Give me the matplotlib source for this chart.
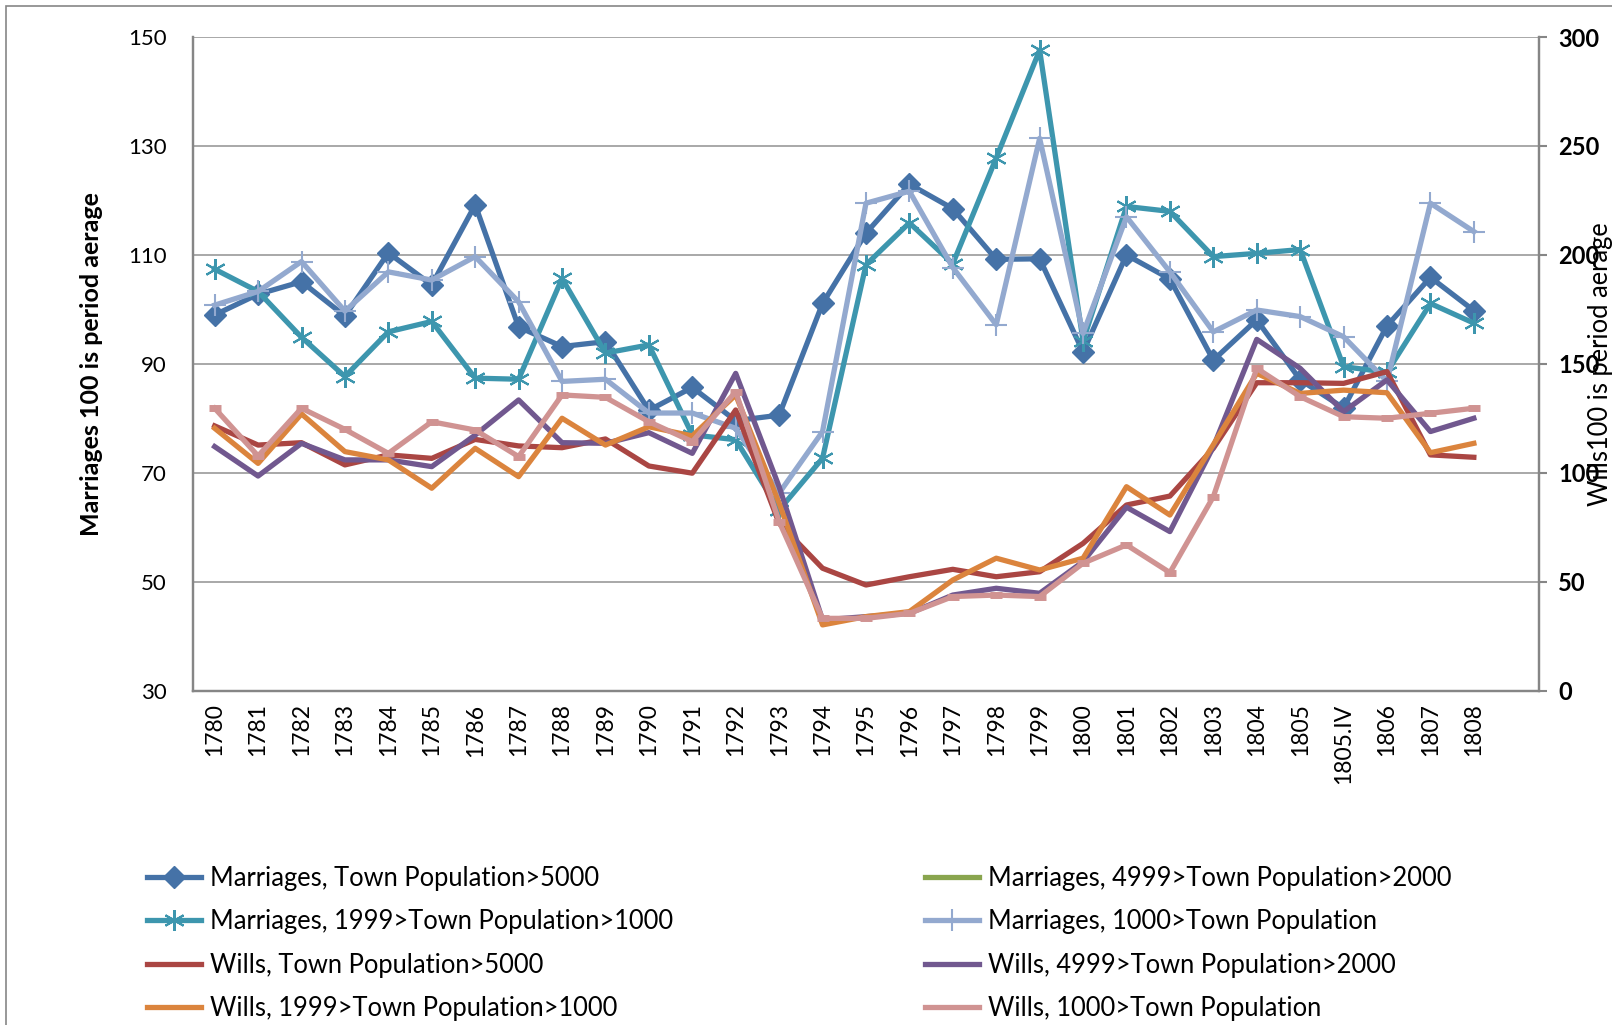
import matplotlib
matplotlib.use("Agg")
import matplotlib.pyplot as plt
from matplotlib.patches import Rectangle

plt.rcParams['font.family'] = ['Lato', 'DejaVu Sans']

# --- Data (index: 100 is period average) ---
years = ['1780', '1781', '1782', '1783', '1784', '1785', '1786', '1787', '1788', '1789',
         '1790', '1791', '1792', '1793', '1794', '1795', '1796', '1797', '1798', '1799',
         '1800', '1801', '1802', '1803', '1804', '1805', '1805.IV', '1806', '1807', '1808']

# marriages, left axis
marr_over_5000 = [99.0, 102.8, 105.1, 98.8, 110.4, 104.5, 119.2, 96.8, 93.2, 94.1,
                  81.5, 85.7, 79.6, 80.6, 101.1, 114.0, 123.0, 118.5, 109.2, 109.3,
                  92.2, 110.0, 105.6, 90.7, 98.1, 87.1, 81.9, 97.0, 105.9, 99.8]
marr_1000_1999 = [107.4, 103.3, 94.9, 87.7, 95.9, 97.8, 87.4, 87.2, 105.7, 92.0,
                  93.5, 77.0, 76.1, 63.2, 72.7, 108.2, 115.9, 108.4, 127.8, 147.6,
                  94.2, 118.9, 118.0, 109.7, 110.3, 111.0, 89.5, 88.5, 101.1, 97.5]
marr_under_1000 = [100.8, 103.3, 108.8, 99.7, 106.9, 105.4, 109.7, 101.4, 86.8, 87.2,
                   81.0, 81.0, 78.2, 66.3, 77.6, 119.5, 121.7, 107.7, 97.2, 131.4,
                   95.6, 117.0, 106.9, 95.9, 99.9, 98.7, 95.0, 86.8, 119.5, 114.3]

# wills, right axis
wills_over_5000 = [121.6, 112.8, 113.9, 103.7, 108.3, 106.7, 115.4, 112.4, 111.6, 115.6,
                   103.2, 99.9, 128.9, 76.9, 56.3, 48.6, 52.4, 55.8, 52.4, 54.7,
                   67.7, 85.3, 89.4, 111.3, 141.4, 141.4, 141.1, 146.5, 108.3, 107.2]
wills_2000_4999 = [112.1, 98.6, 113.6, 106.0, 106.0, 102.9, 117.4, 133.5, 113.9, 113.6,
                   118.5, 109.0, 145.7, 93.7, 32.6, 34.1, 35.6, 44.0, 47.1, 44.8,
                   59.3, 84.3, 73.1, 112.0, 161.3, 148.0, 128.1, 142.7, 119.0, 125.1]
wills_1000_1999 = [120.5, 104.4, 127.1, 109.8, 106.0, 93.0, 111.3, 98.3, 125.1, 112.8,
                   121.2, 117.0, 135.8, 86.1, 30.3, 34.1, 36.4, 50.9, 60.9, 55.5,
                   60.9, 93.7, 80.7, 113.0, 145.7, 136.5, 138.0, 136.8, 109.3, 113.6]
wills_under_1000 = [129.7, 107.8, 129.7, 120.0, 109.0, 123.5, 119.7, 107.5, 135.8, 134.7,
                    123.5, 114.4, 137.3, 77.7, 33.3, 33.3, 35.6, 43.3, 44.0, 43.3,
                    58.6, 67.0, 54.3, 89.1, 148.0, 135.0, 125.8, 125.1, 127.4, 129.7]

BLUE = '#4572A7'
GREEN = '#89A54E'
TEAL = '#3D96AE'
LIGHTBLUE = '#93A9CF'
RED = '#AA4643'
PURPLE = '#71588F'
ORANGE = '#DB843D'
PINK = '#D09392'
AXIS_GREY = '#868686'
LW = 3.8

fig = plt.figure(figsize=(16.12, 10.25), dpi=100)
ax = fig.add_axes([0.1197, 0.3259, 0.8350, 0.6380])
ax2 = ax.twinx()

x = list(range(len(years)))

h_m5000, = ax.plot(x, marr_over_5000, color=BLUE, lw=LW, marker='D', ms=11,
                   label='Marriages, Town Population>5000')
h_green, = ax.plot([], [], color=GREEN, lw=LW,
                   label='Marriages, 4999>Town Population>2000')
h_m1000, = ax.plot(x, marr_1000_1999, color=TEAL, lw=LW, marker=(6, 2, 0), ms=15, mew=1.5,
                   label='Marriages, 1999>Town Population>1000')
h_msmall, = ax.plot(x, marr_under_1000, color=LIGHTBLUE, lw=LW, marker='+', ms=16, mew=1.5,
                    label='Marriages, 1000>Town Population')

h_w5000, = ax2.plot(x, wills_over_5000, color=RED, lw=LW, label='Wills, Town Population>5000')
h_w2000, = ax2.plot(x, wills_2000_4999, color=PURPLE, lw=LW,
                    label='Wills, 4999>Town Population>2000')
h_w1000, = ax2.plot(x, wills_1000_1999, color=ORANGE, lw=LW,
                    label='Wills, 1999>Town Population>1000')
h_wsmall, = ax2.plot(x, wills_under_1000, color=PINK, lw=LW, label='Wills, 1000>Town Population')
# dash markers on the small-town wills line
ax2.plot(x, wills_under_1000, ls='none', marker='_', ms=9, mew=5, color=PINK)

# axes
ax.set_xlim(-0.5, len(years) + 0.5)
ax.set_ylim(30, 150)
ax.set_yticks(range(30, 151, 20))
ax2.set_ylim(0, 300)
ax2.set_yticks(range(0, 301, 50))
ax.set_xticks(x)
ax.set_xticklabels(years, rotation=90)

ax.grid(axis='y', color='#9A9A9A', lw=1.2)
ax.set_axisbelow(True)
for a in (ax, ax2):
    a.spines['top'].set_visible(False)
    for s in ('left', 'right', 'bottom'):
        a.spines[s].set_color(AXIS_GREY)
        a.spines[s].set_linewidth(1.6)

ax.tick_params(axis='y', length=0, pad=19, labelsize=16)
ax.tick_params(axis='x', length=0, pad=9, labelsize=16.5)
ax2.tick_params(axis='y', length=6, width=1.5, color=AXIS_GREY, pad=8, labelsize=17)
for lbl in ax2.get_yticklabels():
    lbl.set_fontweight('bold')

fig.text(0.057, 0.645, 'Marriages 100 is period aerage', rotation=90, ha='center',
         va='center', fontsize=18, fontweight='bold')
fig.text(0.993, 0.645, 'Wills100 is period aerage', rotation=90, ha='center',
         va='center', fontsize=18.4)

# legend in two columns
leg_kw = dict(frameon=False, loc='upper left', fontsize=18.4, handlelength=2.1,
              handletextpad=0.35, labelspacing=0.72, borderpad=0, borderaxespad=0)
leg1 = fig.legend(handles=[h_m5000, h_m1000, h_w5000, h_w1000],
                  bbox_to_anchor=(147 / 1612, 1 - 866 / 1025), **leg_kw)
leg2 = fig.legend(handles=[h_green, h_msmall, h_w2000, h_wsmall],
                  bbox_to_anchor=(925 / 1612, 1 - 866 / 1025), **leg_kw)

# chart area border
fig.patches.append(Rectangle((6 / 1612, -0.1), 1.2, 1.1 - 6 / 1025, transform=fig.transFigure,
                             fill=False, ec=AXIS_GREY, lw=1.2))

fig.savefig('out.png', dpi=100)
